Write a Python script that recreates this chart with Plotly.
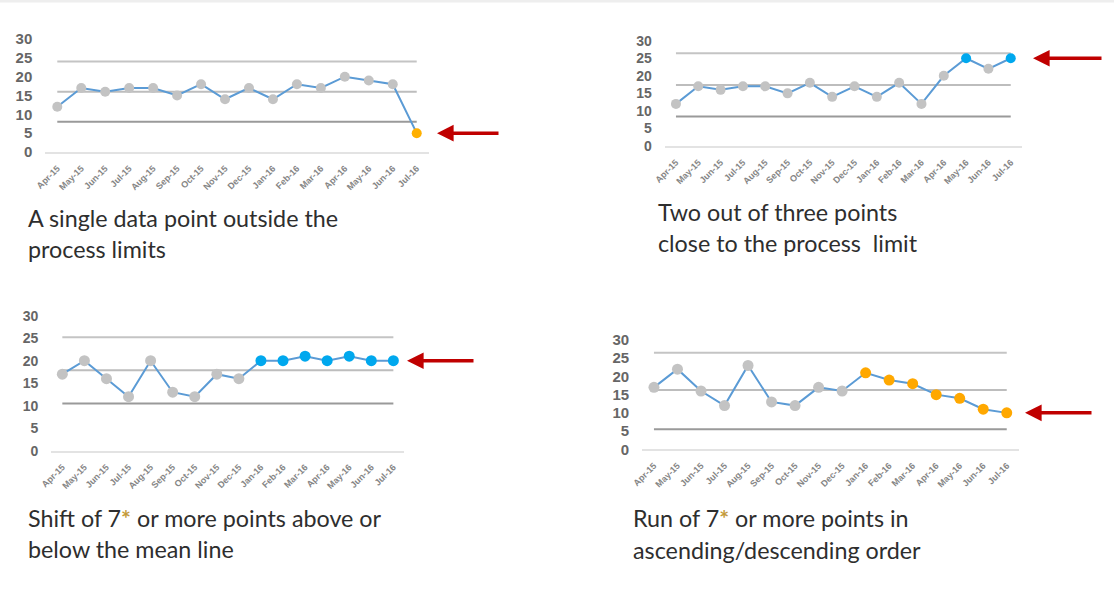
import plotly.graph_objects as go

# Month categories shared by all four run charts
months = ["Apr-15", "May-15", "Jun-15", "Jul-15", "Aug-15", "Sep-15", "Oct-15", "Nov-15",
          "Dec-15", "Jan-16", "Feb-16", "Mar-16", "Apr-16", "May-16", "Jun-16", "Jul-16"]

# Series values for each example
single_point = [12, 17, 16, 17, 17, 15, 18, 14, 17, 14, 18, 17, 20, 19, 18, 5]
two_of_three = [12, 17, 16, 17, 17, 15, 18, 14, 17, 14, 18, 12, 20, 25, 22, 25]
shift_run = [17, 20, 16, 12, 20, 13, 12, 17, 16, 20, 20, 21, 20, 21, 20, 20]
trend_run = [17, 22, 16, 12, 23, 13, 12, 17, 16, 21, 19, 18, 15, 14, 11, 10]

# Control lines: upper limit, mean, lower limit
single_limits = [24, 16, 8]
two_limits = [26.4, 17.4, 8.4]
shift_limits = [25.2, 17.9, 10.5]
trend_limits = [26.5, 16.3, 5.5]

# Indices of the points that trigger each rule
single_flagged = [15]
two_flagged = [13, 15]
shift_flagged = [9, 10, 11, 12, 13, 14, 15]
trend_flagged = [9, 10, 11, 12, 13, 14, 15]

y_ticks = [0, 5, 10, 15, 20, 25, 30]

STAR = "<span style='color:#C49A3A;font-weight:bold'>*</span>"
captions = [
    ["A single data point outside the", "process limits"],
    ["Two out of three points", "close to the process&nbsp; limit"],
    [f"Shift of 7{STAR} or more points above or", "below the mean line"],
    [f"Run of 7{STAR} or more points in", "ascending/descending order"],
]

W, H = 1114, 597

# Panel layout in pixels: x-axis span, y span (top=30, bottom=0), styling
panels = [
    dict(values=single_point, limits=single_limits, flagged=single_flagged, flag_color="#FFB000",
         x0=45.3, x1=428.7, ytop=39, ybot=152, msize=10, fsize=15,
         arrow=(437, 500), cap_x=25.5, cap_y=(218, 249)),
    dict(values=two_of_three, limits=two_limits, flagged=two_flagged, flag_color="#00A8EE",
         x0=664.8, x1=1021.9, ytop=40.7, ybot=146, msize=10, fsize=14,
         arrow=(1033, 1103), cap_x=656.5, cap_y=(212, 243)),
    dict(values=shift_run, limits=shift_limits, flagged=shift_flagged, flag_color="#00A8EE",
         x0=51.3, x1=404.4, ytop=315.7, ybot=450.7, msize=11, fsize=14,
         arrow=(407, 475), cap_x=25.5, cap_y=(518, 549)),
    dict(values=trend_run, limits=trend_limits, flagged=trend_flagged, flag_color="#FFA800",
         x0=642.2, x1=1018.5, ytop=340, ybot=449.3, msize=11, fsize=15,
         arrow=(1025, 1093), cap_x=630.5, cap_y=(518, 550)),
]

limit_colors = ["#C4C4C4", "#BDBDBD", "#9A9A9A"]

fig = go.Figure()
layout = dict(
    width=W, height=H, margin=dict(l=0, r=0, t=0, b=0, autoexpand=False),
    paper_bgcolor="white", plot_bgcolor="white", showlegend=False,
    annotations=[], shapes=[],
)

for i, p in enumerate(panels, start=1):
    xa = "x" if i == 1 else f"x{i}"
    ya = "y" if i == 1 else f"y{i}"
    xkey = "xaxis" if i == 1 else f"xaxis{i}"
    ykey = "yaxis" if i == 1 else f"yaxis{i}"

    # control lines
    for lim, col in zip(p["limits"], limit_colors):
        fig.add_trace(go.Scatter(x=months, y=[lim] * len(months), mode="lines",
                                 line=dict(color=col, width=2), xaxis=xa, yaxis=ya,
                                 hoverinfo="skip"))

    colors = [p["flag_color"] if k in p["flagged"] else "#C3C3C3" for k in range(len(months))]
    fig.add_trace(go.Scatter(x=months, y=p["values"], mode="lines+markers",
                             line=dict(color="#5B9BD5", width=2),
                             marker=dict(color=colors, size=p["msize"]),
                             xaxis=xa, yaxis=ya, cliponaxis=False))

    layout[xkey] = dict(
        domain=[p["x0"] / W, p["x1"] / W], anchor=ya, type="category",
        range=[-0.5, len(months) - 0.5], showgrid=False, zeroline=False,
        showline=True, linecolor="#E3E3E3", linewidth=1.5, ticks="",
        tickangle=-45, ticklabelstandoff=6, automargin=False,
        tickfont=dict(family="Liberation Sans", size=9, color="#858585", weight="bold"),
        fixedrange=True,
    )
    layout[ykey] = dict(
        domain=[1 - p["ybot"] / H, 1 - p["ytop"] / H], anchor=xa,
        range=[0, 30], tickvals=y_ticks, showgrid=False, zeroline=False,
        showline=False, ticks="", ticklabelstandoff=12, automargin=False,
        tickfont=dict(family="Liberation Sans", size=p["fsize"], color="#666666", weight="bold"),
        fixedrange=True,
    )

    # red arrow pointing at the flagged point
    tip, tail = p["arrow"]
    layout["annotations"].append(dict(
        x=tip / W, y=p["values"][-1], xref="paper", yref=ya,
        ax=tail - tip, ay=0, axref="pixel", ayref="pixel",
        text="", showarrow=True, arrowhead=2, arrowsize=0.95, arrowwidth=3.5,
        arrowcolor="#C00000",
    ))

    # caption text
    for line, cy in zip(captions[i - 1], p["cap_y"]):
        layout["annotations"].append(dict(
            x=p["cap_x"] / W, y=1 - cy / H, xref="paper", yref="paper",
            xanchor="left", yanchor="middle", showarrow=False, text=line,
            font=dict(family="Lato", size=23.3, color="#2E2E2E"),
        ))

layout["shapes"].append(dict(type="rect", xref="paper", yref="paper",
                             x0=0, x1=1, y0=1 - 2.5 / H, y1=1,
                             fillcolor="#EEEEEE", line=dict(width=0), layer="below"))

fig.update_layout(**layout)
fig.write_html("out.html")
